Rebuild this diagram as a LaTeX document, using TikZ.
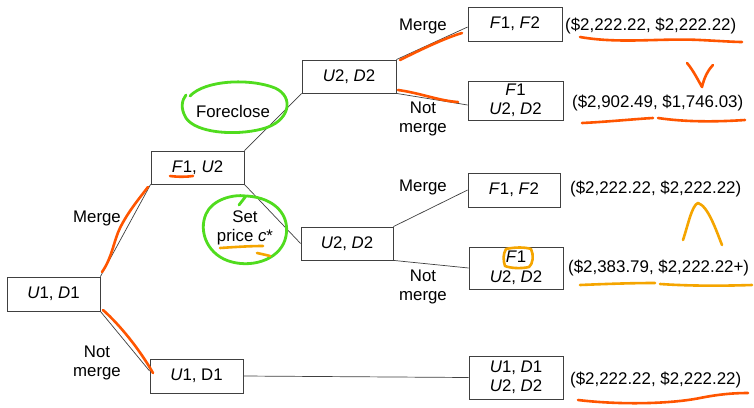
\documentclass[tikz,border=0pt]{standalone}
\usepackage{fontspec}
\setmainfont{Liberation Sans}
\begin{document}
\begin{tikzpicture}[x=1pt,y=-1pt,
  box/.style={draw=black!75,line width=0.8pt,rectangle,inner sep=0pt,align=center,font=\fontsize{16.8}{19.5}\selectfont},
  lbl/.style={inner sep=0pt,align=center,font=\fontsize{16.8}{19}\selectfont},
  pay/.style={inner sep=0pt,anchor=west,font=\fontsize{16.9}{19}\selectfont},
  edge/.style={draw=black!75,line width=0.7pt},
  redpen/.style={draw={rgb,255:red,255;green,85;blue,0},line width=2.6pt,line cap=round,line join=round},
  yelpen/.style={draw={rgb,255:red,245;green,165;blue,0},line width=2.6pt,line cap=round,line join=round},
  grnpen/.style={draw={rgb,255:red,80;green,220;blue,30},line width=2.8pt,line cap=round,line join=round}]
\useasboundingbox (0,0) rectangle (754,407);
\fill[white] (0,0) rectangle (754,407);
% boxes
\node[box,minimum width=93pt,minimum height=34pt] (root) at (53.5,294) {\textit{U}1, \textit{D}1};
\node[box,minimum width=93pt,minimum height=33pt] (fu) at (197.5,167.5) {\textit{F}1, \textit{U}2};
\node[box,minimum width=93pt,minimum height=34pt] (udb) at (196.5,376) {\textit{U}1, D1};
\node[box,minimum width=94pt,minimum height=33pt] (uda) at (349,76.5) {\textit{U}2, \textit{D}2};
\node[box,minimum width=92pt,minimum height=33pt] (udm) at (347,243.5) {\textit{U}2, \textit{D}2};
\node[box,minimum width=94pt,minimum height=34pt] (ffa) at (515,24) {\textit{F}1, \textit{F}2};
\node[box,minimum width=95pt,minimum height=39pt] (fuda) at (515.5,100.5) {\textit{F}1\\\textit{U}2, \textit{D}2};
\node[box,minimum width=92pt,minimum height=34pt] (ffb) at (514,190) {\textit{F}1, \textit{F}2};
\node[box,minimum width=94pt,minimum height=42pt] (fudb) at (516,268) {\textit{F}1\\\textit{U}2, \textit{D}2};
\node[box,minimum width=94pt,minimum height=43pt] (fin) at (516,377.5) {\textit{U}1, \textit{D}1\\\textit{U}2, \textit{D}2};
% connectors
\draw[edge] (root.north east) -- (fu.south west);
\draw[edge] (root.south east) -- ([yshift=5pt]udb.west);
\draw[edge] (fu.north east) -- (uda.south west);
\draw[edge] (fu.south east) -- (udm.west);
\draw[edge] (uda.north east) -- ([yshift=-3pt]ffa.west);
\draw[edge] (uda.south east) -- ([yshift=-4.5pt]fuda.west);
\draw[edge] (udm.north east) -- (ffb.west);
\draw[edge] (udm.south east) -- (fudb.west);
\draw[edge] (udb.east) -- (fin.west);
% labels
\node[lbl] (l1) at (97,218) {Merge};
\node[lbl] (l2) at (97,362.5) {Not\\merge};
\node[lbl] (l3) at (233,111) {Foreclose};
\node[lbl] (l4) at (245,227.5) {Set\\price \textit{c}*};
\node[lbl] (l5) at (423,26) {Merge};
\node[lbl] (l6) at (423,119) {Not\\merge};
\node[lbl] (l7) at (423,187) {Merge};
\node[lbl] (l8) at (423,286.5) {Not\\merge};
% payoffs
\node[pay] (pa) at (565,26) {(\$2,222.22, \$2,222.22)};
\node[pay] (pb) at (572,103) {(\$2,902.49, \$1,746.03)};
\node[pay] (pc) at (570,189) {(\$2,222.22, \$2,222.22)};
\node[pay] (pd) at (568,268) {(\$2,383.79, \$2,222.22+)};
\node[pay] (pe) at (570,380) {(\$2,222.22, \$2,222.22)};
% annotations: red-orange
\draw[redpen] (102,272) .. controls (112,258) and (114,240) .. (120,228) .. controls (128,212) and (138,200) .. (148,187);
\draw[redpen] (103,310) .. controls (120,325) and (140,350) .. (153,373);
\draw[redpen] (170,176) .. controls (178,177) and (186,177) .. (193,176);
\draw[redpen] (400,60) .. controls (420,50) and (445,38) .. (462,33);
\draw[redpen] (398,90) .. controls (420,93) and (440,101) .. (458,102);
\draw[redpen] (580,37) .. controls (620,44) and (660,38) .. (700,40) .. controls (720,41) and (735,42) .. (742,42);
\draw[redpen] (687,63) .. controls (693,70) and (698,80) .. (702,87) .. controls (704,78) and (708,70) .. (713,65);
\draw[redpen] (582,123) .. controls (605,122) and (635,119) .. (653,118);
\draw[redpen] (658,118) .. controls (685,122) and (715,122) .. (745,120);
\draw[redpen] (578,400) .. controls (620,405) and (670,404) .. (700,398) .. controls (720,394) and (735,393) .. (748,393);
% annotations: green
\draw[grnpen] (190,96) .. controls (205,80) and (250,78) .. (275,88) .. controls (295,97) and (290,122) .. (262,129) .. controls (235,136) and (196,133) .. (186,118) .. controls (180,108) and (182,100) .. (186,95);
\draw[grnpen] (247,196) .. controls (275,198) and (290,215) .. (286,236) .. controls (282,258) and (255,268) .. (232,262) .. controls (208,256) and (198,232) .. (206,214) .. controls (212,200) and (232,194) .. (246,196) -- (239,205);
% annotations: yellow
\draw[yelpen] (220,248) .. controls (235,247) and (250,246) .. (263,246);
\draw[yelpen] (257,253) .. controls (262,254) and (266,255) .. (270,256);
\draw[yelpen] (506,249) .. controls (515,247) and (525,247) .. (531,249) .. controls (534,255) and (533,264) .. (529,267) .. controls (520,269) and (510,268) .. (505,266) .. controls (503,260) and (503,254) .. (506,249);
\draw[yelpen] (683,240) .. controls (688,225) and (692,205) .. (698,203) .. controls (708,206) and (716,230) .. (722,245);
\draw[yelpen] (580,285) .. controls (605,284) and (630,283) .. (655,283);
\draw[yelpen] (660,284) .. controls (690,286) and (720,286) .. (752,285);
\end{tikzpicture}
\end{document}
